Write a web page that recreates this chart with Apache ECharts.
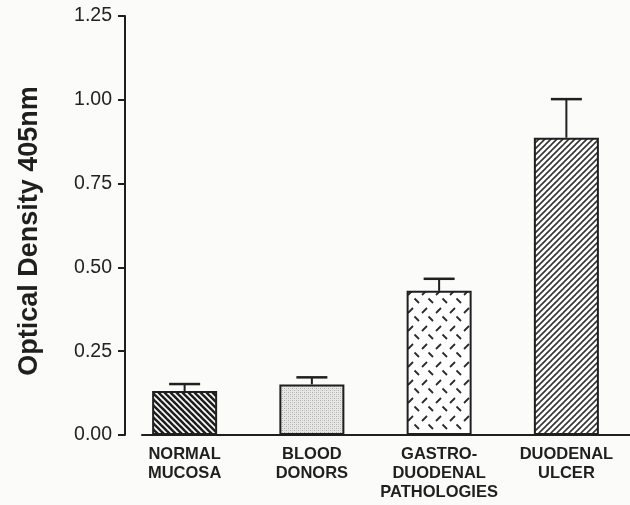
<!DOCTYPE html>
<html>
<head>
<meta charset="utf-8">
<script src="https://cdn.jsdelivr.net/npm/echarts@6/dist/echarts.min.js"></script>
<style>
html,body{margin:0;padding:0;background:#fbfbfa;}
#chart{width:630px;height:505px;}
</style>
</head>
<body>
<div id="chart"></div>
<script>
// ---- data ----
var categories = ['NORMAL\nMUCOSA', 'BLOOD\nDONORS', 'GASTRO-\nDUODENAL\nPATHOLOGIES', 'DUODENAL\nULCER'];
var means = [0.131, 0.151, 0.430, 0.887];
var errors = [0.021, 0.021, 0.036, 0.115];
var yTicks = [0, 0.25, 0.5, 0.75, 1.0, 1.25];
var yTitle = 'Optical Density 405nm';

// ---- patterns ----
function hatch(dir, s, lw, color) {
  var c = document.createElement('canvas');
  c.width = s; c.height = s;
  var g = c.getContext('2d');
  g.fillStyle = '#ffffff'; g.fillRect(0, 0, s, s);
  g.strokeStyle = color; g.lineWidth = lw; g.lineCap = 'square';
  for (var k = -s; k <= s; k += s) {
    g.beginPath();
    if (dir === 'back') { g.moveTo(k, 0); g.lineTo(k + s, s); }
    else { g.moveTo(k + s, 0); g.lineTo(k, s); }
    g.stroke();
  }
  return c;
}
function stipple() {
  var c = document.createElement('canvas');
  c.width = 4; c.height = 4;
  var g = c.getContext('2d');
  g.fillStyle = '#e8e8e6'; g.fillRect(0, 0, 4, 4);
  g.fillStyle = '#aaaaaa';
  g.fillRect(0, 0, 1, 1); g.fillRect(2, 2, 1, 1);
  g.fillStyle = '#cbcbcb';
  g.fillRect(2, 0, 1, 1); g.fillRect(0, 2, 1, 1);
  return c;
}
function dashes() {
  var c = document.createElement('canvas');
  c.width = 14; c.height = 18;
  var g = c.getContext('2d');
  g.fillStyle = '#ffffff'; g.fillRect(0, 0, 14, 18);
  g.strokeStyle = '#2a2a2a'; g.lineWidth = 1.8;
  g.beginPath(); g.moveTo(2, 7); g.lineTo(7, 2); g.stroke();
  g.beginPath(); g.moveTo(8.5, 10.5); g.lineTo(13, 15); g.stroke();
  return c;
}
var fills = [
  { image: hatch('back', 6, 2.6, '#1e1e1e'), repeat: 'repeat' },
  { image: stipple(), repeat: 'repeat' },
  { image: dashes(), repeat: 'repeat' },
  { image: hatch('fwd', 6, 1.6, '#333333'), repeat: 'repeat' }
];

var ink = '#1f1f1f';
var font = 'Liberation Sans, Arial, Helvetica, sans-serif';
var chart = echarts.init(document.getElementById('chart'), null, { renderer: 'canvas' });

var barData = means.map(function (v, i) {
  return { value: v, itemStyle: { color: fills[i], borderColor: ink, borderWidth: 2 } };
});
var errData = means.map(function (v, i) { return [i, v, v + errors[i]]; });

chart.setOption({
  backgroundColor: '#fbfbfa',
  animation: false,
  grid: [
    { left: 121, width: 523, top: 16, bottom: 70 },
    { left: 142, right: 0, top: 16, bottom: 70 }
  ],
  xAxis: [
    {
      type: 'category', gridIndex: 0, data: categories,
      axisLine: { show: false }, axisTick: { show: false },
      axisLabel: {
        interval: 0, margin: 10, color: ink, fontSize: 16.5, fontWeight: 'bold',
        fontFamily: font, lineHeight: 19
      }
    },
    {
      type: 'value', gridIndex: 1, min: 0, max: 1,
      axisLine: { show: true, onZero: false, lineStyle: { color: ink, width: 2 } },
      axisTick: { show: false }, axisLabel: { show: false }, splitLine: { show: false }
    }
  ],
  yAxis: [
    { type: 'value', gridIndex: 0, min: 0, max: 1.25, show: false },
    {
      type: 'value', gridIndex: 1, min: 0, max: 1.25, interval: 0.25, offset: 17,
      axisLine: { show: true, onZero: false, lineStyle: { color: ink, width: 2 } },
      axisTick: { show: true, length: 7, lineStyle: { color: ink, width: 2 } },
      splitLine: { show: false },
      axisLabel: {
        margin: 13, color: '#222', fontSize: 19.5, fontFamily: font,
        formatter: function (v) { return v.toFixed(2); }
      },
      name: yTitle, nameLocation: 'middle', nameGap: 82,
      nameTextStyle: {
        fontSize: 27, fontWeight: 'bold', color: ink,
        fontFamily: font, padding: [0, 11, 0, 0]
      }
    }
  ],
  series: [
    {
      type: 'bar', xAxisIndex: 0, yAxisIndex: 0, barWidth: 65, data: barData
    },
    {
      type: 'custom', xAxisIndex: 0, yAxisIndex: 0, z: 5, data: errData,
      renderItem: function (params, api) {
        var i = api.value(0);
        var lo = api.coord([i, api.value(1)]);
        var hi = api.coord([i, api.value(2)]);
        var half = 15.5;
        return {
          type: 'group',
          children: [
            { type: 'line', shape: { x1: lo[0], y1: lo[1], x2: hi[0], y2: hi[1] },
              style: { stroke: ink, lineWidth: 2 } },
            { type: 'line', shape: { x1: hi[0] - half, y1: hi[1], x2: hi[0] + half, y2: hi[1] },
              style: { stroke: ink, lineWidth: 2.5 } }
          ]
        };
      }
    }
  ]
});
</script>
</body>
</html>
